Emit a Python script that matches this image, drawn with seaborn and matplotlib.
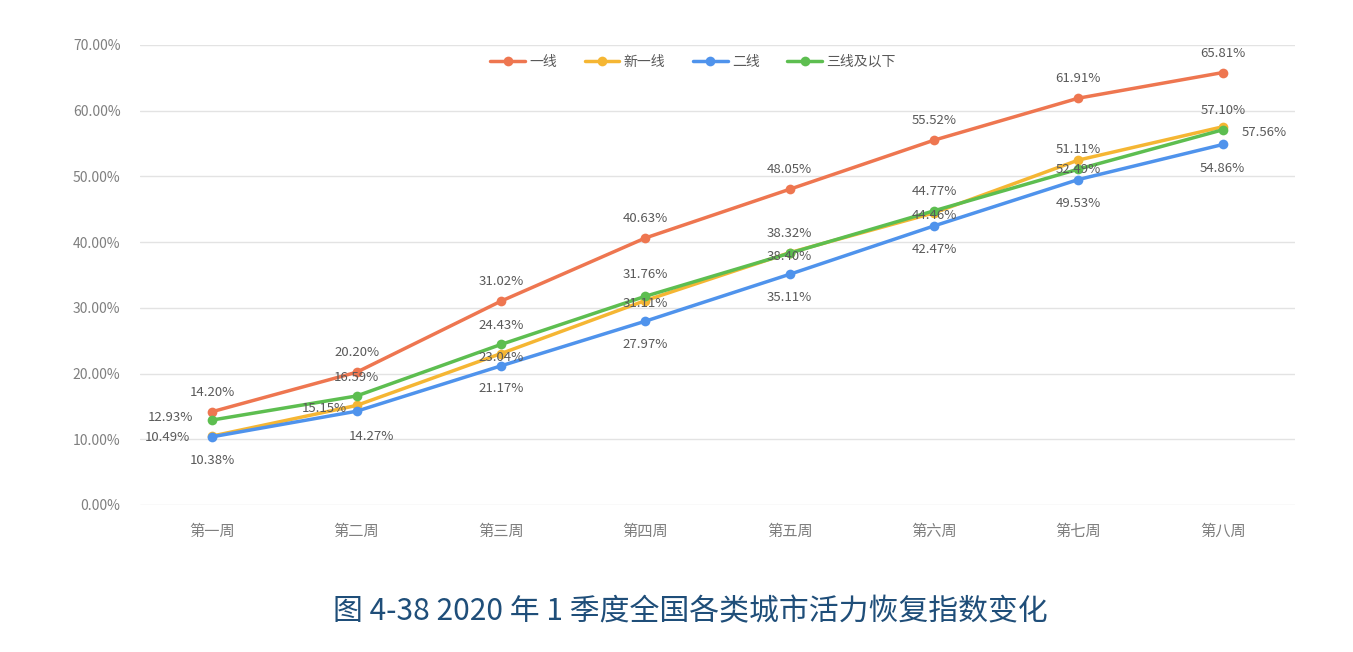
import numpy as np
import pandas as pd
import matplotlib
matplotlib.use("Agg")
import matplotlib.pyplot as plt
import seaborn as sns
from matplotlib.ticker import PercentFormatter

# ===============================
# Data
# ===============================
weeks = ["第一周", "第二周", "第三周", "第四周", "第五周", "第六周", "第七周", "第八周"]
series_names = ["一线", "新一线", "二线", "三线及以下"]
tier1 = [14.20, 20.20, 31.02, 40.63, 48.05, 55.52, 61.91, 65.81]
new_tier1 = [10.49, 15.15, 23.04, 31.11, 38.40, 44.46, 52.49, 57.56]
tier2 = [10.38, 14.27, 21.17, 27.97, 35.11, 42.47, 49.53, 54.86]
tier3 = [12.93, 16.59, 24.43, 31.76, 38.32, 44.77, 51.11, 57.10]

colors = ["#EE7650", "#F5B633", "#4F93EC", "#5DBE50"]

df = pd.DataFrame({
    "周": weeks * 4,
    "城市": np.repeat(series_names, len(weeks)),
    "值": np.array(tier1 + new_tier1 + tier2 + tier3) / 100,
})

# label offsets (points) per series, per week
offsets = {
    "一线": [(0, 14)] * 8,
    "新一线": [(-32, -1), (-23, -2), (0, -3), (0, -2), (0, -3), (0, -2), (0, -7), (30, -4)],
    "二线": [(0, -17), (11, -18), (0, -16), (0, -17), (0, -17), (0, -17), (0, -17), (0, -17)],
    "三线及以下": [(-30, 2), (0, 13), (0, 14), (0, 16), (0, 14), (0, 14), (0, 14), (0, 14)],
}

# ===============================
# Plot
# ===============================
sns.set_style("white")
plt.rcParams["font.family"] = ["Noto Sans CJK SC", "DejaVu Sans"]

fig = plt.figure(figsize=(13.53, 6.52), dpi=100)
ax = fig.add_axes([140 / 1353, 1 - 505 / 652, 1155 / 1353, 460 / 652])

sns.lineplot(data=df, x="周", y="值", hue="城市", hue_order=series_names,
             palette=colors, marker="o", markersize=7, markeredgewidth=0,
             linewidth=2.5, sort=False, ax=ax)

for name in series_names:
    sub = df[df["城市"] == name].reset_index(drop=True)
    for i, row in sub.iterrows():
        ax.annotate(f"{row['值'] * 100:.2f}%", (i, row["值"]),
                    xytext=offsets[name][i], textcoords="offset points",
                    ha="center", va="center", fontsize=9.5, color="#595959")

ax.set_ylim(0, 0.7)
ax.set_xlim(-0.5, 7.5)
ax.set_yticks(np.arange(0, 0.71, 0.1))
ax.yaxis.set_major_formatter(PercentFormatter(1.0, decimals=2))
ax.grid(axis="y", color="#e3e3e3", linewidth=1)
ax.set_axisbelow(True)
for s in ax.spines.values():
    s.set_visible(False)
ax.tick_params(axis="both", length=0, labelcolor="#7f7f7f")
ax.tick_params(axis="y", pad=14, labelsize=10)
ax.tick_params(axis="x", pad=13, labelsize=11)
ax.set_xlabel("")
ax.set_ylabel("")

ax.legend(loc="center", bbox_to_anchor=(553 / 1155, 1 - 17 / 460), ncol=4,
          frameon=False, fontsize=10, handlelength=2.5, columnspacing=2.0,
          handletextpad=0.3, labelcolor="#595959")

fig.text(690 / 1353, 1 - 612 / 652, "图 4-38 2020 年 1 季度全国各类城市活力恢复指数变化",
         ha="center", va="center", fontsize=21.5, color="#1F4E79")

fig.savefig("out.png", dpi=100)
